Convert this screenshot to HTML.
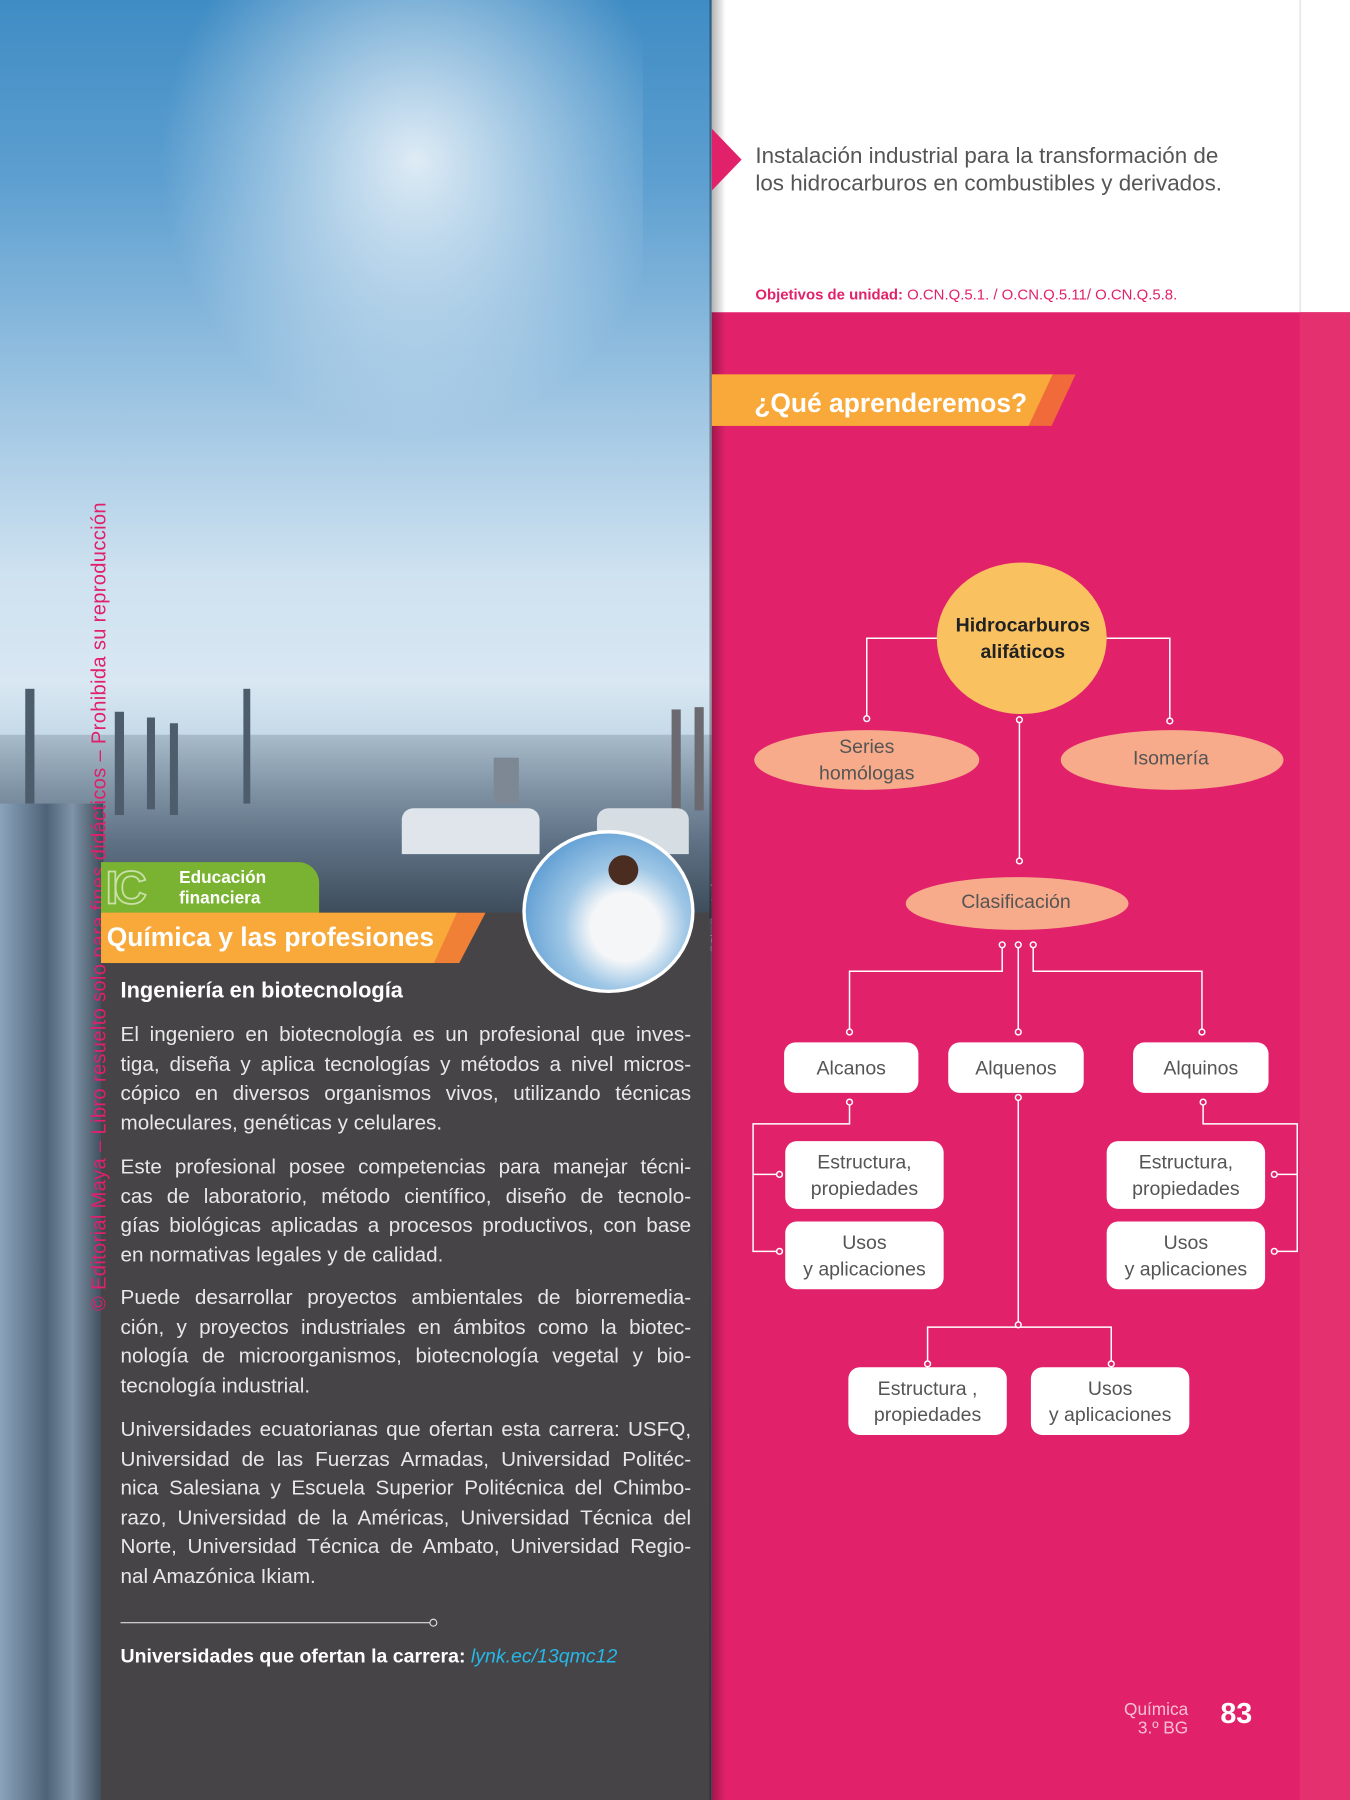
<!DOCTYPE html>
<html><head><meta charset="utf-8"><style>
html,body{margin:0;padding:0;width:1350px;height:1800px;overflow:hidden;background:#fff}
#w{position:absolute;left:0;top:0;width:1176px;height:1568px;transform:scale(1.148);transform-origin:0 0;font-family:"Liberation Sans",sans-serif;overflow:hidden}
.a{position:absolute}
.p{position:absolute;left:105px;width:497px;color:#e8e8e8;font-size:18px;line-height:25.5px}
.p div{text-align:justify;text-align-last:justify;white-space:nowrap;height:25.5px}
.p div.l{text-align-last:left}
.box{position:absolute;background:#fff;border-radius:10px;color:#555;font-size:17px;text-align:center;display:flex;align-items:center;justify-content:center;line-height:23px}
.t{position:absolute;background:#4d5d6c}
</style></head><body><div id="w">
<div class="a" style="left:0;top:0;width:620px;height:1568px;background:linear-gradient(180deg,#3f8cc4 0%,#5d9fd0 10%,#9cc4e2 22%,#cfe2f0 32%,#d8e7f2 38%,#c5d9e8 41%,#a9bfcf 43%,#8499aa 46%,#5d6e7f 52%,#3f4f60 100%)"></div>
<div class="a" style="left:120px;top:0;width:440px;height:400px;background:radial-gradient(ellipse at 55% 35%,rgba(255,255,255,.8),rgba(255,255,255,0) 65%)"></div>
<div class="a" style="left:0;top:640px;width:620px;height:160px;background:linear-gradient(180deg,#a8bccb,#7f93a5 30%,#5d7083 60%,#3b4a58)"></div>
<div class="t" style="left:22px;top:600px;width:8px;height:100px"></div>
<div class="t" style="left:100px;top:620px;width:8px;height:90px"></div>
<div class="t" style="left:128px;top:625px;width:7px;height:80px"></div>
<div class="t" style="left:148px;top:630px;width:7px;height:80px"></div>
<div class="t" style="left:212px;top:600px;width:6px;height:100px"></div>
<div class="t" style="left:585px;top:618px;width:8px;height:90px;background:#6a6a70"></div>
<div class="t" style="left:605px;top:616px;width:8px;height:90px;background:#6a6a70"></div>
<div class="t" style="left:430px;top:660px;width:22px;height:40px;background:#7d8894"></div>
<div class="a" style="left:0;top:700px;width:90px;height:868px;background:linear-gradient(90deg,#8aa4bc,#4f6378 45%,#7f94a8 70%,#3c4b5a)"></div>
<div class="a" style="left:350px;top:704px;width:120px;height:40px;background:#dfe5ea;border-radius:10px 10px 0 0"></div>
<div class="a" style="left:520px;top:704px;width:80px;height:40px;background:#d6dde3;border-radius:10px 10px 0 0"></div>
<div class="a" style="left:88px;top:795px;width:530px;height:773px;background:#464446"></div>
<div class="a" style="left:76px;top:1142px;transform:rotate(-90deg);transform-origin:0 0;white-space:nowrap;color:#e0206a;font-size:17.5px;letter-spacing:0.3px;width:730px">© Editorial Maya – Libro resuelto solo para fines didácticos – Prohibida su reproducción</div>
<div class="a" style="left:88px;top:751px;width:190px;height:48px;background:#7ab332;border-radius:0 18px 0 0"></div>
<div class="a" style="left:92px;top:752px;font-size:40px;color:transparent;-webkit-text-stroke:1.5px #c9e0a8;font-weight:bold;letter-spacing:-4px">IC</div>
<div class="a" style="left:156px;top:756px;color:#fff;font-size:15px;line-height:18px;font-weight:bold">Educación<br>financiera</div>
<svg class="a" style="left:88px;top:795px" width="340" height="44"><polygon points="0,0 335,0 312,44 0,44" fill="#f08036"/><polygon points="0,0 310,0 290,44 0,44" fill="#f8a93a"/></svg>
<div class="a" style="left:93px;top:803px;color:#fff;font-size:23px;font-weight:bold">Química y las profesiones</div>
<div class="a" style="left:455px;top:723px;width:150px;height:142px;border-radius:50%;background:radial-gradient(circle at 60% 60%,#f4f6f8 0 25%,#9fc7e6 45%,#5b9bd2 80%);border:3px solid #fff;box-sizing:border-box"></div>
<div class="a" style="left:530px;top:745px;width:26px;height:26px;border-radius:50%;background:#4a2c20"></div>
<div class="a" style="left:618px;top:830px;transform:rotate(-90deg);transform-origin:0 0;color:#ddd;font-size:10px">©Shutterstock</div>
<div class="a" style="left:105px;top:853px;color:#fff;font-size:19px;font-weight:bold">Ingeniería en biotecnología</div>
<div class="p" style="top:889px"><div>El ingeniero en biotecnología es un profesional que inves-</div><div>tiga, diseña y aplica tecnologías y métodos a nivel micros-</div><div>cópico en diversos organismos vivos, utilizando técnicas</div><div class="l">moleculares, genéticas y celulares.</div></div>
<div class="p" style="top:1004px"><div>Este profesional posee competencias para manejar técni-</div><div>cas de laboratorio, método científico, diseño de tecnolo-</div><div>gías biológicas aplicadas a procesos productivos, con base</div><div class="l">en normativas legales y de calidad.</div></div>
<div class="p" style="top:1118px"><div>Puede desarrollar proyectos ambientales de biorremedia-</div><div>ción, y proyectos industriales en ámbitos como la biotec-</div><div>nología de microorganismos, biotecnología vegetal y bio-</div><div class="l">tecnología industrial.</div></div>
<div class="p" style="top:1233px"><div>Universidades ecuatorianas que ofertan esta carrera: USFQ,</div><div>Universidad de las Fuerzas Armadas, Universidad Politéc-</div><div>nica Salesiana y Escuela Superior Politécnica del Chimbo-</div><div>razo, Universidad de la Américas, Universidad Técnica del</div><div>Norte, Universidad Técnica de Ambato, Universidad Regio-</div><div class="l">nal Amazónica Ikiam.</div></div>
<div class="a" style="left:105px;top:1413px;width:270px;height:1px;background:#ddd"></div>
<div class="a" style="left:374px;top:1410px;width:5px;height:5px;border:1px solid #ddd;border-radius:50%"></div>
<div class="a" style="left:105px;top:1433px;color:#fff;font-size:17px;font-weight:bold">Universidades que ofertan la carrera: <span style="color:#27b8e8;font-style:italic;font-weight:normal">lynk.ec/13qmc12</span></div>
<div class="a" style="left:620px;top:0;width:556px;height:272px;background:#fff"></div>
<div class="a" style="left:1132px;top:0;width:1px;height:272px;background:#ddd"></div>
<div class="a" style="left:620px;top:272px;width:556px;height:1296px;background:#e2216b"></div>
<div class="a" style="left:1132px;top:272px;width:44px;height:1296px;background:#e4306f"></div>
<div class="a" style="left:618px;top:0;width:14px;height:1568px;background:linear-gradient(90deg,rgba(0,0,0,.35),rgba(0,0,0,0))"></div>
<svg class="a" style="left:620px;top:112px" width="30" height="56"><polygon points="0,0 26,27 0,54" fill="#e2216b"/></svg>
<div class="a" style="left:658px;top:124px;color:#555;font-size:19.5px;line-height:24px">Instalación industrial para la transformación de<br>los hidrocarburos en combustibles y derivados.</div>
<div class="a" style="left:658px;top:249px;color:#e2216b;font-size:13px"><b>Objetivos de unidad:</b> O.CN.Q.5.1. / O.CN.Q.5.11/ O.CN.Q.5.8.</div>
<svg class="a" style="left:620px;top:326px" width="320" height="46"><polygon points="0,0 317,0 296,45 0,45" fill="#f06a3a"/><polygon points="0,0 297,0 276,45 0,45" fill="#f8a93a"/></svg>
<div class="a" style="left:657px;top:338px;color:#fff;font-size:23px;font-weight:bold">¿Qué aprenderemos?</div>
<svg class="a" style="left:0;top:0" width="1176" height="1568" fill="none" stroke="#fff" stroke-width="1.3">
<path d="M818,556H755V623M963,556H1019V625M888,630V748M873,825V846H740V896M887,825V896M900,825V846H1047V896M740,963V979H656V1090H676M656,1023H676M1048,963V979H1130V1090H1113M1130,1023H1113M887,958V1151M808,1188V1156H968V1188"/>
<g fill="#e2216b"><circle cx="755" cy="626" r="2.5"/><circle cx="1019" cy="628" r="2.5"/><circle cx="888" cy="627" r="2.5"/><circle cx="888" cy="750" r="2.5"/><circle cx="873" cy="823" r="2.5"/><circle cx="887" cy="823" r="2.5"/><circle cx="900" cy="823" r="2.5"/><circle cx="740" cy="899" r="2.5"/><circle cx="887" cy="899" r="2.5"/><circle cx="1047" cy="899" r="2.5"/><circle cx="740" cy="960" r="2.5"/><circle cx="887" cy="956" r="2.5"/><circle cx="1048" cy="960" r="2.5"/><circle cx="679" cy="1023" r="2.5"/><circle cx="679" cy="1090" r="2.5"/><circle cx="1110" cy="1023" r="2.5"/><circle cx="1110" cy="1090" r="2.5"/><circle cx="887" cy="1154" r="2.5"/><circle cx="808" cy="1188" r="2.5"/><circle cx="968" cy="1188" r="2.5"/></g>
</svg>
<svg class="a" style="left:0;top:0" width="1176" height="1568">
<ellipse cx="890" cy="556" rx="74" ry="66" fill="#f9c160"/>
<ellipse cx="755" cy="662" rx="98" ry="26" fill="#f7ab8a"/>
<ellipse cx="1021" cy="662" rx="97" ry="26" fill="#f7ab8a"/>
<ellipse cx="886" cy="787" rx="97" ry="23" fill="#f7ab8a"/>
</svg>
<div class="a" style="left:800px;top:533px;width:182px;text-align:center;font-size:17px;line-height:23px;font-weight:bold;color:#222">Hidrocarburos<br>alifáticos</div>
<div class="a" style="left:660px;top:639px;width:190px;text-align:center;font-size:17px;line-height:23px;color:#555">Series<br>homólogas</div>
<div class="a" style="left:925px;top:651px;width:190px;text-align:center;font-size:17px;color:#555">Isomería</div>
<div class="a" style="left:790px;top:776px;width:190px;text-align:center;font-size:17px;color:#555">Clasificación</div>
<div class="box" style="left:683px;top:908px;width:117px;height:44px">Alcanos</div>
<div class="box" style="left:826px;top:908px;width:118px;height:44px">Alquenos</div>
<div class="box" style="left:987px;top:908px;width:118px;height:44px">Alquinos</div>
<div class="box" style="left:684px;top:994px;width:138px;height:59px">Estructura,<br>propiedades</div>
<div class="box" style="left:684px;top:1064px;width:138px;height:59px">Usos<br>y aplicaciones</div>
<div class="box" style="left:964px;top:994px;width:138px;height:59px">Estructura,<br>propiedades</div>
<div class="box" style="left:964px;top:1064px;width:138px;height:59px">Usos<br>y aplicaciones</div>
<div class="box" style="left:739px;top:1191px;width:138px;height:59px">Estructura ,<br>propiedades</div>
<div class="box" style="left:898px;top:1191px;width:138px;height:59px">Usos<br>y aplicaciones</div>
<div class="a" style="left:935px;top:1482px;width:100px;text-align:right;color:#f5c0d3;font-size:15px;line-height:16px">Química<br>3.º BG</div>
<div class="a" style="left:1063px;top:1479px;color:#fff;font-size:25px;font-weight:bold">83</div>
</div></body></html>
